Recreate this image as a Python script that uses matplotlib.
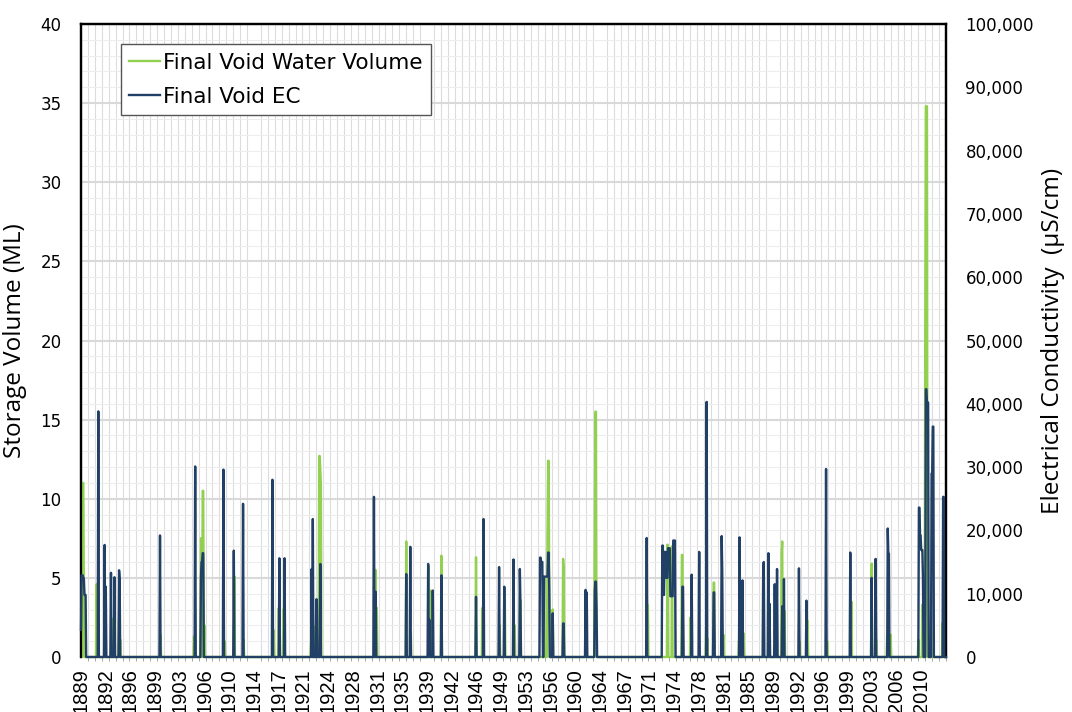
import numpy as np
import matplotlib
matplotlib.use("Agg")
import matplotlib.pyplot as plt
from matplotlib.ticker import FuncFormatter, MultipleLocator

# months with water in the final void (all other months are 0)
vol_months = ["1889-01", "1889-02", "1889-04", "1889-05", "1889-06", "1891-04", "1891-07",
              "1893-08", "1894-07", "1894-09", "1900-07", "1905-05", "1906-05", "1906-06",
              "1906-08", "1906-09", "1906-11", "1909-10", "1911-03", "1912-07", "1916-11",
              "1917-08", "1918-04", "1922-04", "1922-10", "1923-03", "1923-06", "1923-07",
              "1923-08", "1923-09", "1931-08", "1931-10", "1936-01", "1936-09", "1939-04",
              "1939-07", "1941-02", "1946-02", "1947-01", "1949-07", "1950-04", "1951-09",
              "1952-07", "1955-12", "1956-06", "1956-07", "1956-08", "1956-09", "1957-03",
              "1958-09", "1958-10", "1963-04", "1963-05", "1963-06", "1970-12", "1973-10",
              "1974-06", "1975-11", "1975-12", "1977-02", "1979-05", "1979-07", "1980-06",
              "1980-07", "1981-11", "1984-02", "1984-10", "1990-04", "1990-05", "1990-09",
              "1992-11", "1994-01", "1996-11", "2000-05", "2003-04", "2003-12", "2005-07",
              "2006-01", "2010-01", "2010-08", "2011-01", "2011-02", "2011-03", "2011-04",
              "2011-11", "2013-07"]
vol_ml = [3.0, 3.0, 11.0, 11.0, 4.0, 4.6, 3.8,
          2.4, 2.4, 1.1, 1.4, 1.3, 7.5, 7.5,
          10.5, 10.5, 2.0, 1.0, 5.1, 1.1, 1.7,
          3.1, 3.0, 1.1, 1.9, 1.8, 12.7, 12.7,
          11.8, 10.9, 5.5, 3.1, 7.3, 1.5, 5.7,
          4.2, 6.4, 6.3, 3.1, 2.0, 3.6, 2.0,
          3.6, 5.0, 8.1, 12.4, 12.4, 4.2, 3.0,
          6.2, 5.6, 7.8, 15.5, 15.5, 3.3, 7.1,
          7.0, 6.45, 6.45, 2.5, 1.6, 1.2, 4.7,
          4.7, 1.4, 1.0, 1.5, 6.55, 7.3, 2.9,
          1.0, 2.3, 1.0, 3.5, 5.9, 1.1, 1.4,
          1.4, 1.1, 3.3, 21.0, 34.8, 34.8, 34.8,
          1.5, 2.15]

# months with a recorded EC (uS/cm)
ec_months = ["1889-01", "1889-02", "1889-03", "1889-04", "1889-05", "1889-06", "1889-07",
             "1889-08", "1889-09", "1891-07", "1892-06", "1892-08", "1893-05", "1893-11",
             "1894-07", "1894-08", "1900-06", "1905-07", "1906-05", "1906-06", "1906-07",
             "1906-08", "1906-09", "1909-08", "1911-02", "1912-06", "1916-09", "1917-09",
             "1918-06", "1922-05", "1922-07", "1923-01", "1923-02", "1923-08", "1931-05",
             "1931-08", "1936-01", "1936-08", "1939-03", "1939-05", "1939-11", "1941-02",
             "1946-02", "1947-03", "1949-06", "1950-03", "1951-07", "1952-06", "1952-07",
             "1955-05", "1955-06", "1955-07", "1955-08", "1955-09", "1955-12", "1956-01",
             "1956-02", "1956-03", "1956-04", "1956-05", "1956-06", "1956-07", "1956-08",
             "1956-09", "1957-03", "1958-09", "1958-10", "1961-12", "1962-02", "1963-04",
             "1963-05", "1963-06", "1963-07", "1970-10",
             "1973-01", "1973-02", "1973-03", "1973-04", "1973-05", "1973-06", "1973-07",
             "1973-08", "1973-09", "1973-10", "1973-11", "1973-12", "1974-01", "1974-02",
             "1974-03", "1974-04", "1974-05", "1974-06", "1974-07", "1974-08", "1974-09",
             "1974-10", "1974-11",
             "1975-12", "1976-01", "1977-04", "1978-05", "1979-06", "1980-06", "1980-07",
             "1981-08", "1981-09", "1984-03", "1984-08", "1987-08", "1987-09", "1988-05",
             "1988-07", "1989-04", "1989-08", "1990-05", "1990-08", "1992-10", "1993-11",
             "1996-09", "2000-03", "2003-04", "2003-11", "2005-08", "2005-09", "2005-10",
             "2010-02", "2010-03", "2010-04", "2010-05", "2010-06", "2010-07", "2010-08",
             "2010-09", "2011-02", "2011-03", "2011-04", "2011-05", "2011-06", "2011-12",
             "2012-01", "2012-02", "2012-03", "2013-08", "2013-09"]
ec_us = [4300, 12900, 12900, 12900, 12400, 12400, 9800,
         9800, 9800, 38800, 17700, 11100, 13300, 12600,
         13700, 12400, 19200, 30100, 12500, 15000, 15000,
         16400, 16400, 29600, 16800, 24200, 28000, 15600,
         15600, 13900, 21800, 9100, 9100, 14700, 25300,
         10300, 13100, 17400, 14700, 5900, 10500, 12900,
         9500, 21800, 14200, 11100, 15400, 13900, 8500,
         15700, 15700, 15000, 15000, 15000, 12700, 12700,
         12700, 12700, 12700, 12700, 12700, 16500, 16500,
         10600, 6900, 5300, 5300, 10600, 10200, 10500,
         11900, 11900, 7700, 18800,
         17600, 17600, 9800, 9800, 16600, 16600, 16600,
         12500, 12500, 12500, 17200, 17200, 17200, 17200,
         9600, 9600, 9600, 9600, 9600, 18400, 18400,
         18400, 18400,
         11100, 11100, 13000, 16600, 40300, 10200, 10200,
         19100, 13300, 18900, 12100, 13700, 15000, 16400,
         8400, 11500, 13900, 8000, 12300, 14000, 8900,
         29700, 16500, 12500, 15500, 20300, 16300, 16300,
         23600, 23600, 19200, 19200, 16900, 16900, 16900,
         12700, 42300, 42300, 40200, 40200, 40200, 29000,
         29000, 36400, 36400, 25300, 25300]

year_labels = ["1889", "1892", "1896", "1899", "1903", "1906", "1910", "1914", "1917",
               "1921", "1924", "1928", "1931", "1935", "1939", "1942", "1946", "1949",
               "1953", "1956", "1960", "1964", "1967", "1971", "1974", "1978", "1981",
               "1985", "1989", "1992", "1996", "1999", "2003", "2006", "2010"]

START, END = 1889, 2014
GREEN = "#92D050"
NAVY = "#223F66"

n = (END - START) * 12
t = START + np.arange(n + 1) / 12.0


def monthly(months, values):
    s = np.zeros(n + 1)
    for m, v in zip(months, values):
        y, mo = m.split("-")
        s[(int(y) - START) * 12 + int(mo) - 1] = v
    return s


vol = monthly(vol_months, vol_ml)
ec = monthly(ec_months, ec_us)

fig = plt.figure(figsize=(10.72, 7.12), dpi=100)
ax = fig.add_axes([81 / 1072, 55 / 712, 865 / 1072, 633 / 712])
ax2 = ax.twinx()

l1, = ax.plot(t, vol, color=GREEN, lw=1.7, clip_on=False, zorder=3)
l2, = ax2.plot(t, ec, color=NAVY, lw=1.7, clip_on=False, zorder=3)

ax.set_xlim(START, END)
ax.set_ylim(0, 40)
ax2.set_ylim(0, 100000)

# grid
ax.set_axisbelow(True)
ax.yaxis.set_major_locator(MultipleLocator(5))
ax.yaxis.set_minor_locator(MultipleLocator(1))
ax.xaxis.set_minor_locator(MultipleLocator(1))
ax.grid(which="major", axis="y", color="#D9D9D9", lw=1.5)
ax.grid(which="minor", axis="y", color="#EDEDED", lw=0.8)
ax.grid(which="minor", axis="x", color="#DCDCDC", lw=0.8)

ax.set_xticks(np.linspace(START, END, len(year_labels) + 1)[:-1])
ax.set_xticklabels(year_labels, rotation=90, fontsize=14.5, family="Liberation Sans")
ax.tick_params(axis="x", which="major", length=0, pad=8)
ax.tick_params(axis="x", which="minor", length=3, color="#999999")
ax.tick_params(axis="y", which="both", length=0, labelsize=12, pad=14)
ax2.yaxis.set_major_locator(MultipleLocator(10000))
ax2.yaxis.set_major_formatter(FuncFormatter(lambda v, p: f"{v:,.0f}"))
ax2.tick_params(axis="y", length=0, labelsize=12, pad=14)

for a in (ax, ax2):
    for side in ("left", "right", "top"):
        a.spines[side].set_color("black")
        a.spines[side].set_linewidth(1.6)
    a.spines["bottom"].set_visible(False)

ax.set_ylabel("Storage Volume (ML)", fontsize=17.5, family="Open Sans", labelpad=10)
ax2.set_ylabel("Electrical Conductivity  (\u00b5S/cm)", fontsize=17.5, family="Open Sans",
               labelpad=5)

leg = ax2.legend([l1, l2], ["Final Void Water Volume", "Final Void EC"],
                 loc="upper left", bbox_to_anchor=(0.046, 0.968), borderaxespad=0,
                 fontsize=15.5, fancybox=False, framealpha=1, edgecolor="#555555",
                 handlelength=1.4, handletextpad=0.15, labelspacing=0.65, borderpad=0.4)
leg.get_frame().set_linewidth(1.0)

fig.savefig("out.png", dpi=100)
